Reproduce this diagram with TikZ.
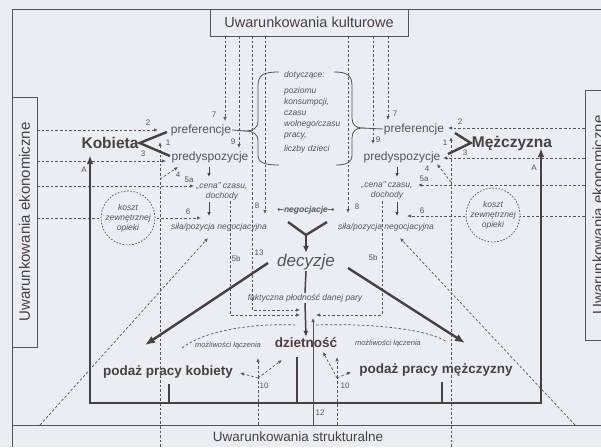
\documentclass[tikz,border=0pt]{standalone}
\usepackage{fontspec}
\setmainfont{Liberation Sans}
\newfontfamily\arrowfont{DejaVu Sans}
\usetikzlibrary{arrows.meta}
\definecolor{paper}{RGB}{234,237,241}
\definecolor{ink}{RGB}{88,84,84}
\definecolor{heavy}{RGB}{74,64,64}
\tikzset{
  frame/.style={draw=ink, line width=0.9pt},
  framebox/.style={frame, fill=paper, text=heavy, inner sep=0pt},
  dep/.style={draw=ink, line width=0.7pt, dash pattern=on 2.6pt off 2pt, -{Latex[length=4pt,width=3.4pt]}},
  depline/.style={draw=ink, line width=0.7pt, dash pattern=on 2.6pt off 2pt},
  heavyline/.style={draw=heavy, line width=2.4pt},
  heavyarrow/.style={heavyline, -{Latex[length=10pt,width=8pt]}},
  smallarrow/.style={draw=heavy, line width=1pt, -{Latex[length=4pt,width=3.5pt]}},
  num/.style={font=\fontsize{8}{8}\selectfont, text=ink, inner sep=0pt},
  key/.style={font=\fontsize{12}{12}\selectfont, text=ink, inner sep=1pt},
  actor/.style={font=\fontsize{15.5}{16}\selectfont\bfseries, text=heavy, inner sep=1pt},
  outcome/.style={font=\fontsize{13.5}{14}\selectfont\bfseries, text=heavy, inner sep=1pt},
  note/.style={font=\fontsize{8.5}{10}\selectfont\itshape, text=ink, align=center, inner sep=1pt},
  opieka/.style={circle, draw=ink, line width=0.7pt, dash pattern=on 1.6pt off 1.6pt, minimum size=54pt, fill=paper, note, inner sep=0pt},
}
\begin{document}
\begin{tikzpicture}[x=1pt,y=-1pt]
\clip (0,0) rectangle (601,447);
\fill[paper] (0,0) rectangle (601,447);
% ramy uwarunkowan
\draw[frame] (12,447) -- (12,9) -- (610,9);
\draw[frame] (12,425) -- (610,425);
\node[framebox, minimum width=198pt, minimum height=27pt, font=\fontsize{14.5}{15}\selectfont] (kult) at (309,22.5) {Uwarunkowania kulturowe};
\node[framebox, minimum width=25pt, minimum height=250pt] (ekonL) at (24.5,222) {};
\node[rotate=90, text=heavy, font=\fontsize{15}{15}\selectfont] (ekonLt) at (ekonL) {Uwarunkowania ekonomiczne};
\node[framebox, minimum width=30pt, minimum height=250pt] (ekonR) at (600,215) {};
\node[rotate=90, text=heavy, font=\fontsize{15}{15}\selectfont] (ekonRt) at (598,215) {Uwarunkowania ekonomiczne};
\node[text=heavy, font=\fontsize{13.5}{14}\selectfont] (struk) at (298,437) {Uwarunkowania strukturalne};

% aktorzy i pojecia
\node[actor] (kob) at (110,143) {Kobieta};
\node[actor] (mez) at (512,143) {Mężczyzna};
\node[key] (prefL) at (201,130) {preferencje};
\node[key] (predL) at (210,157) {predyspozycje};
\node[key] (prefR) at (414,129) {preferencje};
\node[key] (predR) at (402,157) {predyspozycje};
\node[note] (cenaL) at (222,191) {„cena” czasu,\\dochody};
\node[note] (cenaR) at (387,190) {„cena” czasu,\\dochody};
\node[note] (silaL) at (219,227) {siła/pozycja negocjacyjna};
\node[note] (silaR) at (386,227) {siła/pozycja negocjacyjna};
\node[note, align=left, anchor=north west, font=\fontsize{8.5}{11}\selectfont\itshape] (dot) at (283,70)
  {dotyczące:\\[5pt]poziomu\\konsumpcji,\\czasu\\wolnego/czasu\\pracy,\\[3pt]liczby dzieci};
\node[note, font=\fontsize{8.5}{10}\selectfont\bfseries\itshape] (neg) at (306,210) {{\arrowfont\fontsize{8}{10}\selectfont ←}negocjacje{\arrowfont\fontsize{8}{10}\selectfont →}};
\node[text=ink, font=\fontsize{17}{17}\selectfont\itshape, inner sep=1pt] (dec) at (306,262) {decyzje};
\node[note] (fakt) at (305,298) {faktyczna płodność danej pary};
\node[outcome] (dziet) at (306,343) {dzietność};
\node[outcome] (podK) at (168,372) {podaż pracy kobiety};
\node[outcome] (podM) at (436,370) {podaż pracy mężczyzny};
\node[note, font=\fontsize{7.5}{8}\selectfont\itshape] (mozL) at (228,345) {możliwości łączenia};
\node[note, font=\fontsize{7.5}{8}\selectfont\itshape] (mozR) at (388,343) {możliwości łączenia};

% numery zaleznosci
\node[num] (l2) at (148,123) {2};
\node[num] (l1) at (168,143) {1};
\node[num] (l3) at (143,154) {3};
\node[num] (l4) at (178,175) {4};
\node[num] (l5a) at (189,180) {5a};
\node[num] (l6) at (188,212) {6};
\node[num] (l7) at (214,115) {7};
\node[num] (l9) at (233,142) {9};
\node[num] (l8) at (257,206) {8};
\node[num] (l13) at (259,253) {13};
\node[num] (l5b) at (236,259) {5b};
\node[num] (l10) at (264,386) {10};
\node[num] (p2) at (460,122) {2};
\node[num] (p1) at (445,143) {1};
\node[num] (p3) at (465,153) {3};
\node[num] (p4) at (427,169) {4};
\node[num] (p5a) at (424,179) {5a};
\node[num] (p6) at (422,211) {6};
\node[num] (p7) at (395,114) {7};
\node[num] (p9) at (378,140) {9};
\node[num] (p8) at (357,207) {8};
\node[num] (p5b) at (373,258) {5b};
\node[num] (p10) at (345,386) {10};
\node[num] (l12) at (320,413) {12};
\node[num] (lA) at (84,170) {A};
\node[num] (pA) at (534,168) {A};

% zaleznosci z lewej
\draw[dep] (37,130) -- (158,130);
\draw[dep] (37,161) -- (166,161);
\draw[dep] (37,186) -- (194,186);
\draw[dep] (37,218) -- (201,218);
\draw[dep] (160,447) -- (160,142);
\draw[dep] (160,179) -- (178,167);
\draw[dep] (225,36) -- (225,121);
\draw[dep] (239,36) -- (239,148);
\draw[dep] (265,36) -- (265,214);
\draw[dep] (252,36) -- (252,310) -- (300,310);
\draw[dep] (230,201) -- (230,315) -- (300,315);
\draw[dep] (40,425) -- (208,238);
\coordinate (r10L) at (258,378);
\draw[depline] (258,425) -- (r10L);
\draw[dep] (r10L) -- (258,358);
\draw[dep] (r10L) -- (282,360);
\draw[dep] (r10L) -- (240,373);

% zaleznosci z prawej
\draw[dep] (585,128) -- (448,128);
\draw[dep] (585,158) -- (443,158);
\draw[dep] (585,185) -- (418,185);
\draw[dep] (585,216) -- (407,216);
\draw[dep] (451,447) -- (451,137);
\draw[dep] (451,182) -- (437,164);
\draw[dep] (388,36) -- (388,120);
\draw[dep] (373,36) -- (373,144);
\draw[dep] (348,36) -- (348,213);
\draw[dep] (382,201) -- (382,315) -- (316,315);
\draw[dep] (575,425) -- (400,238);
\coordinate (r10R) at (337,378);
\draw[depline] (337,425) -- (r10R);
\draw[dep] (r10R) -- (337,357);
\draw[dep] (r10R) -- (323,352);
\draw[dep] (r10R) -- (351,372);
\draw[draw=ink, line width=0.6pt, -{Latex[length=4pt,width=3.4pt]}] (313,425) -- (313,318);

% koszt opieki
\node[opieka] (kosztL) at (128,218) {koszt\\zewnętrznej\\opieki};
\node[opieka] (kosztR) at (493,215) {koszt\\zewnętrznej\\opieki};

% klamry
\draw[ink, line width=0.8pt] (279,72) .. controls (263,72) and (258,75) .. (258,86) -- (258,121)
  .. controls (258,128) and (253,131) .. (246,131) .. controls (253,131) and (258,134) .. (258,141)
  -- (258,155) .. controls (258,162) and (263,165) .. (279,165);
\draw[ink, line width=0.8pt] (334,72) .. controls (347,72) and (352,75) .. (352,86) -- (352,118)
  .. controls (352,125) and (356,128) .. (362,128) .. controls (356,128) and (352,131) .. (352,138)
  -- (352,155) .. controls (352,162) and (347,165) .. (336,165);
\draw[ink, line width=0.8pt] (prefL.east) -- (246,131);
\draw[ink, line width=0.8pt] (362,128) -- (prefR.west);

% kobieta, mezczyzna
\draw[heavyline] (167,132) -- (kob.east) -- (170,156);
\draw[heavyline] (455,133) -- (mez.west) -- (448,154);
\draw[smallarrow] (209,167) -- (209,177);
\draw[smallarrow] (209,202) -- (209,216);
\draw[smallarrow] (397,167) -- (397,177);
\draw[smallarrow] (397,202) -- (397,216);

% negocjacje i decyzje
\coordinate (yfork) at (306,235);
\draw[heavyline] (288,222) -- (yfork) -- (327,222);
\draw[heavyline, -{Latex[length=7pt,width=6pt]}] (yfork) -- (dec.north);
\draw[heavyarrow] (268,263) -- (145,345);
\draw[heavyarrow] (348,268) -- (465,343);
\draw[draw=heavy, line width=1.5pt] (dec.south) -- (fakt.north);
\draw[draw=heavy, line width=1.5pt, -{Latex[length=6pt,width=5pt]}] (fakt.south) -- (dziet.north);

% mozliwosci laczenia
\draw[depline] (182,348) .. controls (205,330) and (255,323) .. (297,325);
\draw[depline] (316,325) .. controls (375,323) and (430,330) .. (447,342);

% podaz pracy i dzietnosc -> A
\draw[heavyline, {Latex[length=9pt,width=6.5pt]}-{Latex[length=9pt,width=6.5pt]}] (90,155) -- (90,403) -- (541,403) -- (541,148);
\draw[heavyline] (169,384) -- (169,403);
\draw[heavyline] (442,382) -- (442,403);
\draw[heavyline] (297,357) -- (297,403);
\end{tikzpicture}
\end{document}
